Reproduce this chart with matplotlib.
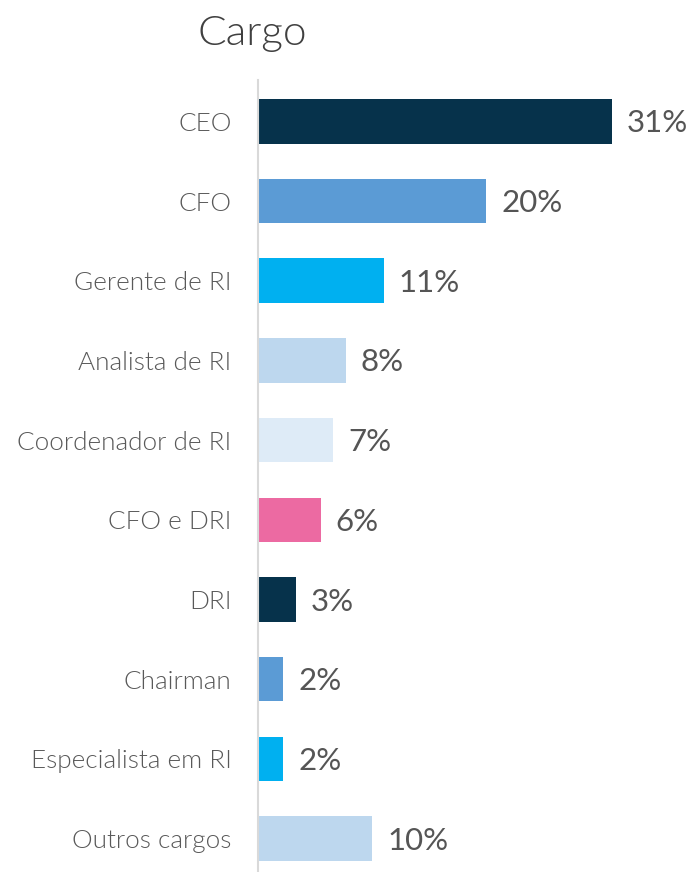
#!/usr/bin/env python3

import matplotlib.pyplot as plt

cargos = ['CEO', 'CFO', 'Gerente de RI', 'Analista de RI', 'Coordenador de RI',
          'CFO e DRI', 'DRI', 'Chairman', 'Especialista em RI', 'Outros cargos']
valores = [31, 20, 11, 7.7, 6.6, 5.5, 3.3, 2.2, 2.2, 10]
rotulos = ['31%', '20%', '11%', '8%', '7%', '6%', '3%', '2%', '2%', '10%']
cores = ['#06324B', '#5B9BD5', '#00B0F0', '#BDD7EE', '#DEEBF7',
         '#EC6AA2', '#06324B', '#5B9BD5', '#00B0F0', '#BDD7EE']

plt.rcParams['font.family'] = ['Lato', 'DejaVu Sans']

W, H = 695, 872
fig = plt.figure(figsize = (W / 100, H / 100), dpi = 100)
ax = fig.add_axes([258 / W, 0, 1 - 258 / W, 1 - 80 / H])

pos = list(range(len(cargos)))
ax.barh(pos, valores, height = 0.56, color = cores, left = 0)
ax.set_xlim(0, (W - 258) / 11.42)
ax.set_ylim(9.42, -0.52)

for p, v, r in zip(pos, valores, rotulos):
    ax.annotate(r, (v, p), xytext = (15, -2), textcoords = 'offset pixels',
                va = 'center', ha = 'left', fontsize = 22.5, color = '#555555')

ax.set_yticks(pos)
ax.set_yticklabels(cargos, fontsize = 18.8, color = '#595959', fontweight = 300)
ax.tick_params(axis = 'y', length = 0, pad = 19)
ax.set_xticks([])
for s in ['top', 'right', 'bottom']:
    ax.spines[s].set_visible(False)
ax.spines['left'].set_color('#D9D9D9')
ax.spines['left'].set_linewidth(1.5)

fig.text(252 / W, 1 - 45 / H, 'Cargo', ha = 'center', va = 'baseline',
         fontsize = 30.5, color = '#404040', fontweight = 300)

plt.savefig('out.png', dpi = 100)
